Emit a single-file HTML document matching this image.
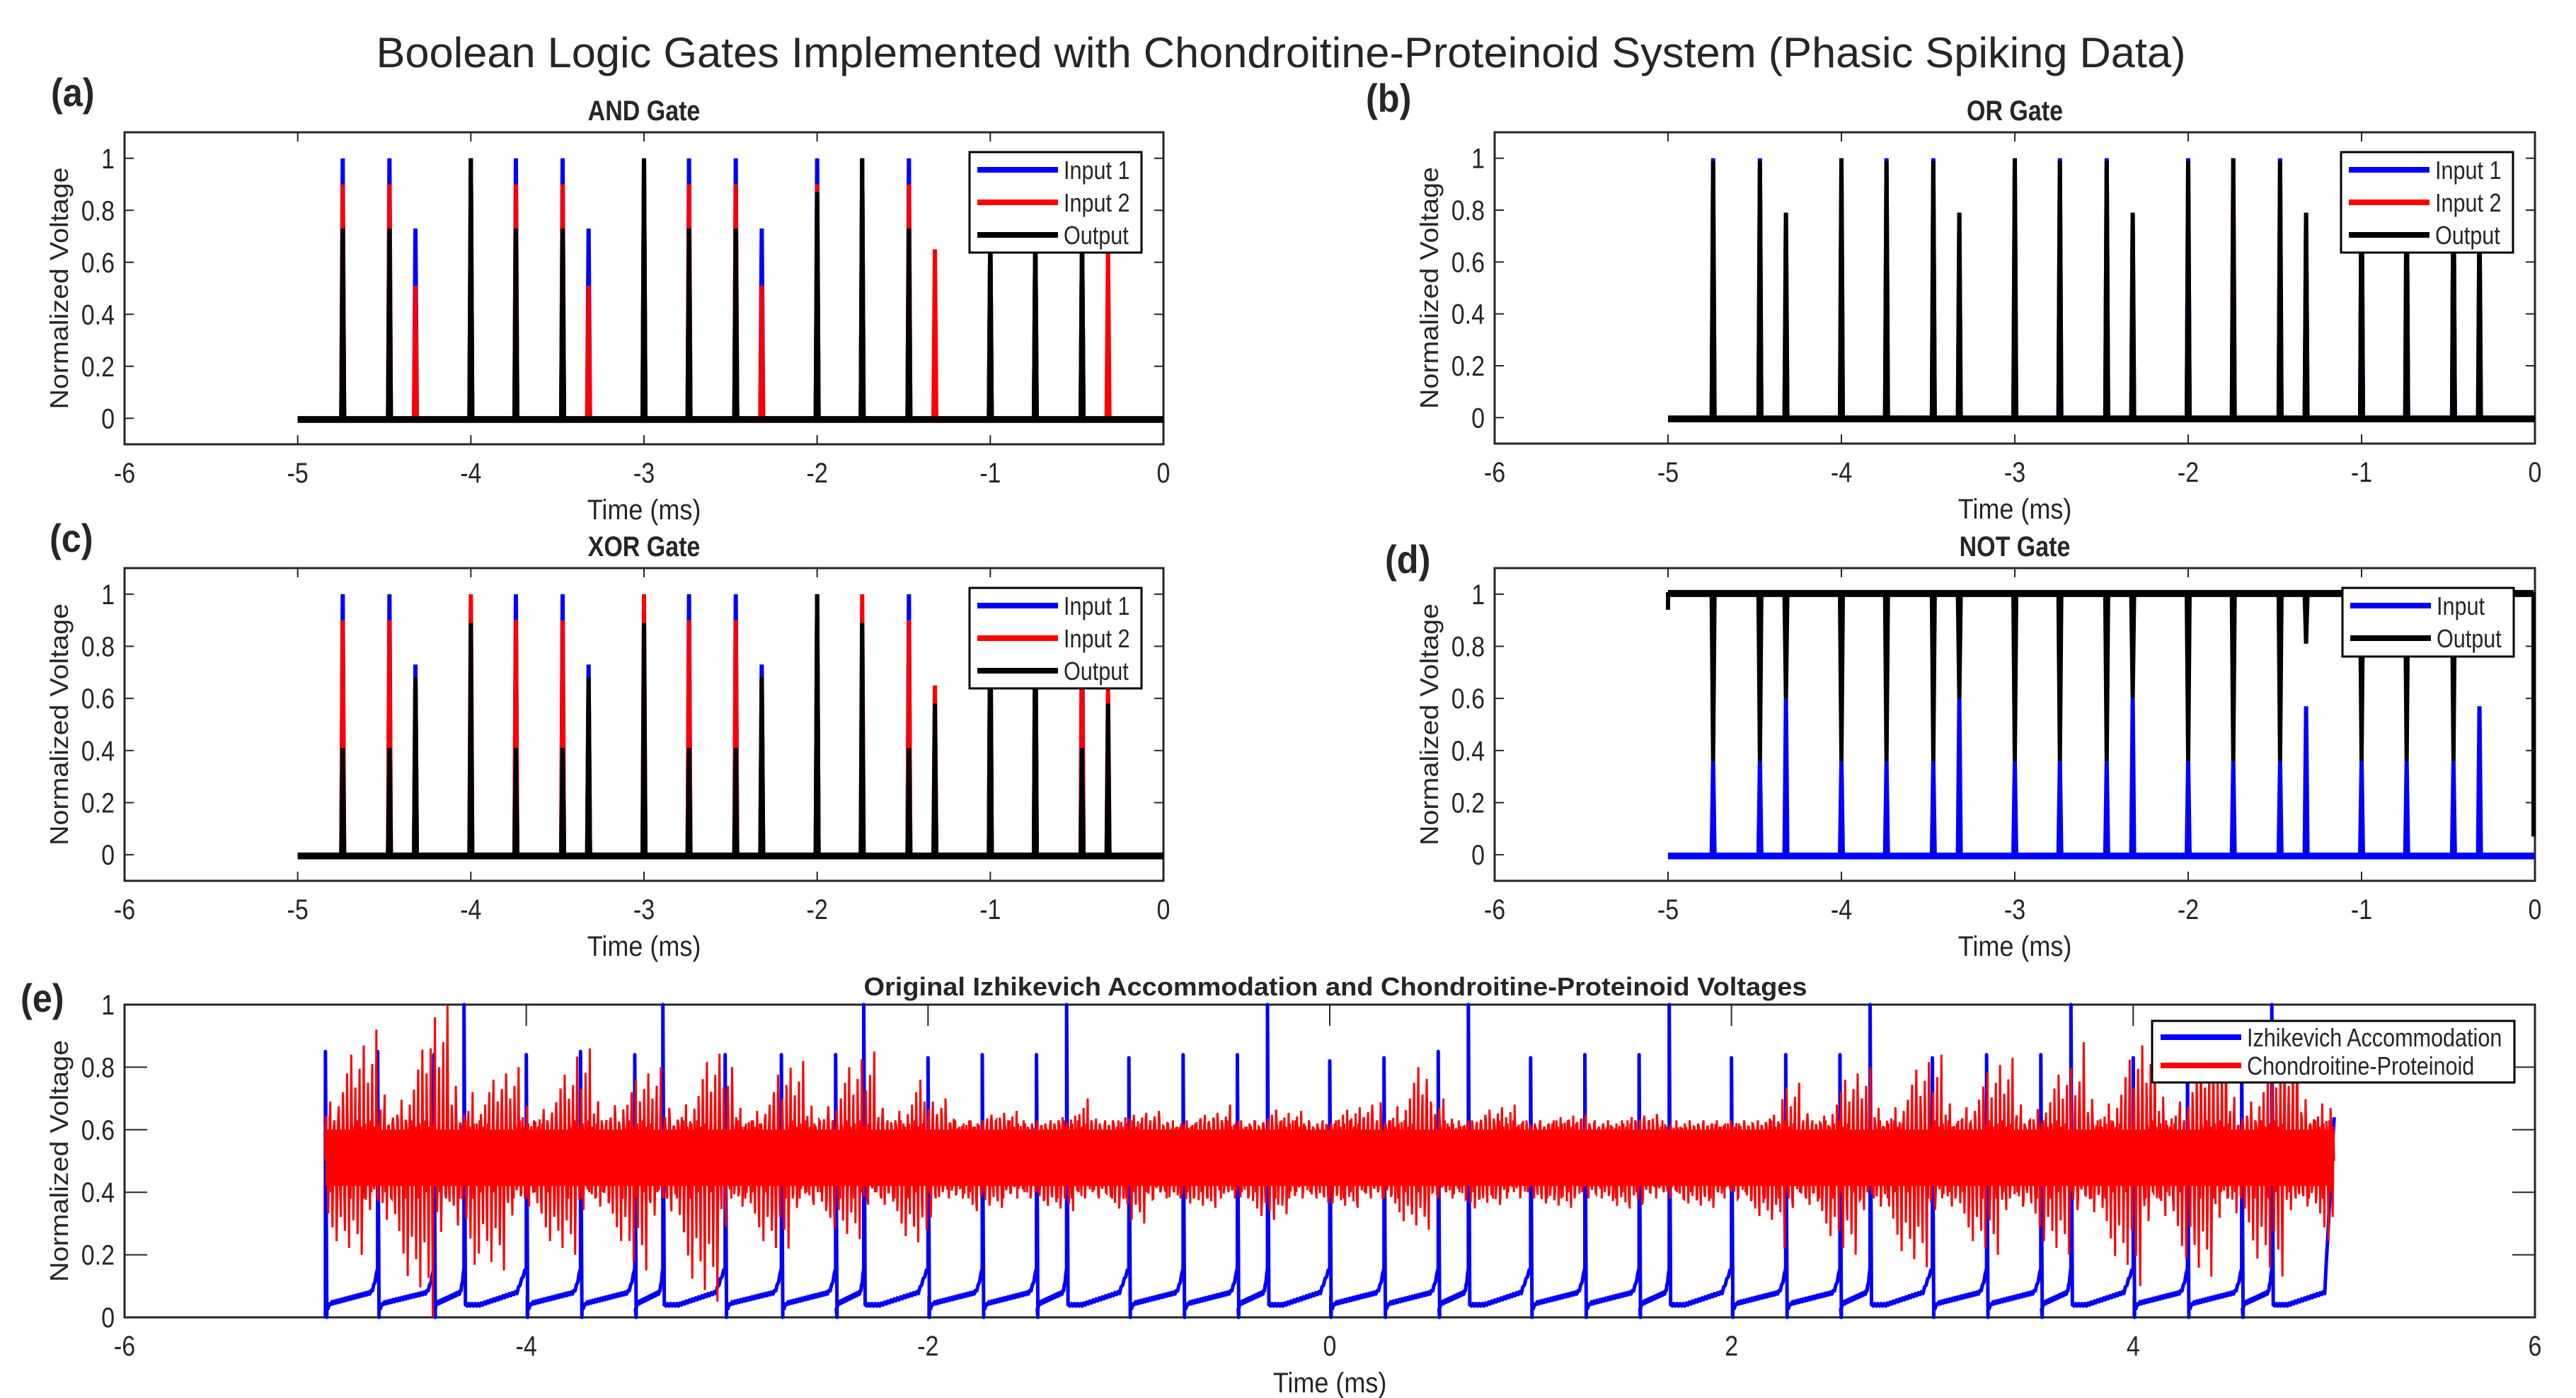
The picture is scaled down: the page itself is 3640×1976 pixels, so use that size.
<!DOCTYPE html>
<html><head><meta charset="utf-8"><style>
html,body{margin:0;padding:0;background:#fff;}
svg{display:block;}
text{font-family:"Liberation Sans",Arial,sans-serif;fill:#262626;}
</style></head><body>
<svg id="fig" xmlns="http://www.w3.org/2000/svg" width="3640" height="1976" viewBox="0 0 3640 1976">
<rect x="0" y="0" width="3640" height="1976" fill="#fff"/>
<text x="1810" y="95" font-size="60" text-anchor="middle" textLength="2557" lengthAdjust="spacingAndGlyphs" fill="#000">Boolean Logic Gates Implemented with Chondroitine-Proteinoid System (Phasic Spiking Data)</text>
</svg>
<script>
// ---- data ----
const spikeTimes = [-4.74,-4.47,-4.32,-4.0,-3.74,-3.47,-3.32,-3.0,-2.74,-2.47,-2.32,-2.0,-1.74,-1.47,-1.32,-1.0,-0.74,-0.47,-0.32];
const andIn1 = [1,1,0.73,1,1,1,0.73,1,1,1,0.73,1,1,1,0,0.73,0.73,0.73,0];
const andIn2 = [0.9,0.9,0.51,1,0.9,0.9,0.51,1,0.9,0.9,0.51,0.9,1,0.9,0.65,0.73,0.73,0.73,0.65];
const andOut = [0.73,0.73,0,1,0.73,0.73,0,1,0.73,0.73,0,0.87,1,0.73,0,0.73,0.73,0.73,0];
const orIn1 = [1,1,0,0,1,1,0,0,1,1,0,1,0,1,0,1,1,1,0];
const orIn2 = [0,0,0.79,1,0,0,0.79,1,0,0,0.79,0,1,0,0.79,0,0,0,0.79];
const orOut = [0.99,0.99,0.79,1,0.99,0.99,0.79,1,0.99,0.99,0.79,0.99,1,0.99,0.79,0.99,0.99,0.99,0.79];
const xorIn1 = [1,1,0.73,0,1,1,0.73,0,1,1,0.73,1,0,1,0,1,1,1,0];
const xorIn2 = [0.9,0.9,0.68,1,0.9,0.9,0.68,1,0.9,0.9,0.68,1,1,0.9,0.65,1,1,0.9,0.65];
const xorOut = [0.41,0.41,0.68,0.89,0.41,0.41,0.68,0.89,0.41,0.41,0.68,1,0.89,0.41,0.58,1,1,0.41,0.58];
const notIn = [0.36,0.36,0.6,0.36,0.36,0.36,0.6,0.36,0.36,0.36,0.6,0.36,0.36,0.36,0.57,0.36,0.36,0.36,0.57];
const notOut = [0.36,0.36,0.6,0.36,0.36,0.36,0.6,0.36,0.36,0.36,0.6,0.36,0.36,0.36,0.81,0.36,0.36,0.36,0.81];
const gateXTicks = [-6,-5,-4,-3,-2,-1,0];
const gateYTicks = [0,0.2,0.4,0.6,0.8,1];
const gateYTickLabels = ['0','0.2','0.4','0.6','0.8','1'];
// panel e
const izhTimes = [-5,-4.74,-4.46,-4.31,-4,-3.73,-3.46,-3.32,-3.01,-2.73,-2.46,-2.32,-2,-1.73,-1.46,-1.31,-1,-0.73,-0.46,-0.31,0,0.27,0.54,0.69,1,1.27,1.54,1.69,2,2.27,2.54,2.69,3,3.27,3.54,3.69,4,4.27,4.54,4.69];
const izhPeaks = [0.85,0.85,0.84,1,0.84,0.85,0.84,1,0.84,0.84,0.84,1,0.83,0.84,0.84,1,0.83,0.84,0.84,1,0.82,0.83,0.85,1,0.83,0.84,0.84,1,0.83,0.84,0.84,1,0.83,0.84,0.84,1,0.83,0.84,0.84,1];
const izhEnd = 0.64;
const redBins = [-5,-4.75,-4.5,-4.25,-4,-3.75,-3.5,-3.25,-3,-2.75,-2.5,-2.25,-2,-1.75,-1.5,-1.25,-1,-0.75,-0.5,-0.25,0,0.25,0.5,0.75,1,1.25,1.5,1.75,2,2.25,2.5,2.75,3,3.25,3.5,3.75,4,4.25,4.5,4.75];
const redUpper = [0.9,0.92,1.0,0.8,0.82,0.86,0.8,0.87,0.8,0.82,0.85,0.8,0.7,0.66,0.65,0.7,0.66,0.66,0.68,0.66,0.68,0.85,0.7,0.68,0.65,0.65,0.65,0.62,0.66,0.75,0.8,0.84,0.84,0.83,0.82,0.88,0.9,0.9,0.9,0.88];
const redLower = [0.2,0.06,0.0,0.15,0.2,0.2,0.15,0.05,0.2,0.22,0.25,0.22,0.32,0.35,0.34,0.33,0.3,0.35,0.3,0.33,0.35,0.28,0.33,0.36,0.35,0.34,0.36,0.35,0.3,0.22,0.2,0.16,0.2,0.2,0.2,0.14,0.1,0.13,0.13,0.2];
const eXTicks = [-6,-4,-2,0,2,4,6];
const eYTicks = [0,0.2,0.4,0.6,0.8,1];

// ---- drawing helpers ----
const NS = 'http://www.w3.org/2000/svg';
const svg = document.getElementById('fig');
function mk(tag, attrs, name, parent) {
  const el = document.createElementNS(NS, tag);
  for (const k in attrs) el.setAttribute(k, attrs[k]);
  
  
  (parent || svg).appendChild(el);
  return el;
}
function txt(x, y, s, size, name, opt) {
  opt = opt || {};
  const sx = opt.sx || 1;
  const el = document.createElementNS(NS, 'text');
  el.setAttribute('transform', 'translate(' + x + ',' + y + ')' + (opt.rot ? ' rotate(' + opt.rot + ')' : '') + ' scale(' + sx + ',1)');
  el.setAttribute('font-size', size);
  el.setAttribute('text-anchor', opt.anchor || 'middle');
  if (opt.bold) el.setAttribute('font-weight', 'bold');
  if (opt.len) { el.setAttribute('textLength', opt.len); el.setAttribute('lengthAdjust', 'spacingAndGlyphs'); }
  if (opt.fill) el.setAttribute('fill', opt.fill);
  el.textContent = s;
  
  
  svg.appendChild(el);
  return el;
}

function makeAxes(p) {
  p.X = v => p.L + (v - p.x0) / (p.x1 - p.x0) * (p.R - p.L);
  p.Y = v => p.B - (v - p.y0) / (p.y1 - p.y0) * (p.B - p.T);
  return p;
}
function drawFrame(p, xt, yt, ytl, tickLen) {
  const g = mk('g', {}, p.id + '-axes');
  mk('rect', {x:p.L, y:p.T, width:p.R-p.L, height:p.B-p.T, fill:'none', stroke:'#262626', 'stroke-width':3}, p.id + '-axes-box', g);
  xt.forEach(v => {
    const x = p.X(v);
    mk('line', {x1:x, y1:p.B, x2:x, y2:p.B-tickLen, stroke:'#262626','stroke-width':2}, p.id + '-x-tick', g);
    mk('line', {x1:x, y1:p.T, x2:x, y2:p.T+tickLen, stroke:'#262626','stroke-width':2}, p.id + '-x-tick-top', g);
    txt(x, p.B + 54, String(v), 40, p.id + '-x-tick-label', {sx:0.85});
  });
  yt.forEach((v, i) => {
    const y = p.Y(v);
    const tl = p.ytickLen || tickLen;
    mk('line', {x1:p.L, y1:y, x2:p.L+tl, y2:y, stroke:'#262626','stroke-width':2}, p.id + '-y-tick', g);
    mk('line', {x1:p.R, y1:y, x2:p.R-tl, y2:y, stroke:'#262626','stroke-width':2}, p.id + '-y-tick-right', g);
    txt(p.L - 14, y + 14, ytl[i], 40, p.id + '-y-tick-label', {sx:0.85, anchor:'end'});
  });
  txt((p.L + p.R) / 2, p.B + 106, 'Time (ms)', 40, p.id + '-x-axis-title', {sx:0.9});
  txt(p.L - 80, (p.T + p.B) / 2, 'Normalized Voltage', 36, p.id + '-y-axis-title', {rot:-90, len:342});
}
function spikePath(p, times, vals) {
  let d = 'M' + p.X(-5) + ',' + p.Y(0);
  times.forEach((t, i) => {
    const x = p.X(t);
    d += ' L' + (x - 2) + ',' + p.Y(0) + ' L' + x + ',' + p.Y(vals[i]) + ' L' + (x + 2) + ',' + p.Y(0);
  });
  d += ' L' + p.X(0) + ',' + p.Y(0);
  return d;
}
function legend(p, x0, y0, w, h, entries, lx1, lx2, ys) {
  const g = mk('g', {}, p.id + '-legend');
  mk('rect', {x:x0, y:y0, width:w, height:h, fill:'#fff', stroke:'#000', 'stroke-width':3}, p.id + '-legend-box', g);
  entries.forEach((e, i) => {
    mk('line', {x1:lx1, y1:ys[i], x2:lx2, y2:ys[i], stroke:e[1], 'stroke-width':8}, p.id + '-legend-swatch-' + e[2], g);
    txt(lx2 + 8, ys[i] + 13, e[0], 36, p.id + '-legend-label-' + e[2], {sx:0.85, anchor:'start', fill:'#000'});
  });
}

// ---- gate panels ----
const gates = [
  {id:'and', L:176, R:1644, T:187, B:628, title:'AND Gate', lab:'(a)', lx:72, ly:150, series:[andIn1, andIn2, andOut]},
  {id:'or', L:2112, R:3582, T:187, B:627, title:'OR Gate', lab:'(b)', lx:1930, ly:158, series:[orIn1, orIn2, orOut]},
  {id:'xor', L:176, R:1644, T:803, B:1245, title:'XOR Gate', lab:'(c)', lx:70, ly:780, series:[xorIn1, xorIn2, xorOut]},
  {id:'not', L:2112, R:3582, T:803, B:1245, title:'NOT Gate', lab:'(d)', lx:1957, ly:810, series:null}
];
gates.forEach(p => {
  p.x0 = -6; p.x1 = 0; p.y0 = -0.1; p.y1 = 1.1;
  makeAxes(p);
  drawFrame(p, gateXTicks, gateYTicks, gateYTickLabels, 13);
  txt((p.L + p.R) / 2, p.T - 17, p.title, 40, p.id + '-title', {bold:true, sx:0.85, fill:'#000'});
  txt(p.lx, p.ly, p.lab, 56, p.id + '-panel-label', {bold:true, anchor:'start', sx:0.9, fill:'#333'});
  const legY = p.T + 28;
  if (p.series) {
    const cols = ['#0000ff', '#ff0000', '#000000'];
    const names = ['input-1', 'input-2', 'output'];
    p.series.forEach((vals, k) => {
      mk('path', {d:spikePath(p, spikeTimes, vals), fill:'none', stroke:cols[k], 'stroke-width':6, 'stroke-linejoin':'miter'}, p.id + '-' + names[k] + '-trace');
    });
    mk('line', {x1:p.X(-5), y1:p.Y(0)+2, x2:p.R, y2:p.Y(0)+2, stroke:'#000', 'stroke-width':9}, p.id + '-output-baseline');
    const lx = p.R - 274;
    legend(p, lx, legY, 243, 142, [['Input 1','#0000ff','input-1'],['Input 2','#ff0000','input-2'],['Output','#000','output']], lx + 11, lx + 125, [legY + 25, legY + 71, legY + 117]);
  } else {
    mk('path', {d:spikePath(p, spikeTimes, notIn), fill:'none', stroke:'#0000ff', 'stroke-width':6}, 'not-input-trace');
    mk('line', {x1:p.X(-5), y1:p.Y(0)+2, x2:p.R, y2:p.Y(0)+2, stroke:'#0000ff', 'stroke-width':9}, 'not-input-baseline');
    let d = 'M' + p.X(-5) + ',' + p.Y(0.94) + ' L' + p.X(-5) + ',' + p.Y(1);
    spikeTimes.forEach((t, i) => {
      const x = p.X(t);
      d += ' L' + (x - 2) + ',' + p.Y(1) + ' L' + x + ',' + p.Y(notOut[i]) + ' L' + (x + 2) + ',' + p.Y(1);
    });
    d += ' L' + (p.X(0) - 2) + ',' + p.Y(1) + ' L' + (p.X(0) - 2) + ',' + p.Y(0.07);
    mk('path', {d:d, fill:'none', stroke:'#000', 'stroke-width':6}, 'not-output-trace');
    mk('line', {x1:p.X(-5), y1:p.Y(1)-1, x2:p.X(0)-2, y2:p.Y(1)-1, stroke:'#000', 'stroke-width':10}, 'not-output-high-level');
    const lx = p.R - 272;
    legend(p, lx, legY, 242, 97, [['Input','#0000ff','input'],['Output','#000','output']], lx + 11, lx + 125, [legY + 25, legY + 71]);
  }
});

// ---- panel e ----
const pe = makeAxes({id:'izh', L:176, R:3582, T:1420, B:1862, x0:-6, x1:6, y0:0, y1:1, ytickLen:32});
drawFrame(pe, eXTicks, eYTicks, gateYTickLabels, 30);
txt(1887, 1407, 'Original Izhikevich Accommodation and Chondroitine-Proteinoid Voltages', 36, 'izh-title', {bold:true, len:1333, fill:'#000'});
txt(29, 1430, '(e)', 56, 'izh-panel-label', {bold:true, anchor:'start', sx:0.9, fill:'#333'});

(function () {
  let d = '';
  for (let i = 0; i < izhTimes.length; i++) {
    const t0 = izhTimes[i];
    const t1 = i + 1 < izhTimes.length ? izhTimes[i + 1] : 5.0;
    const big = izhPeaks[i] >= 0.99;
    const x0 = pe.X(t0);
    if (i === 0) d += 'M' + x0 + ',' + pe.Y(0.0);
    d += ' L' + x0 + ',' + pe.Y(izhPeaks[i]) + ' L' + (x0 + 2) + ',' + pe.Y(big ? 0.04 : 0);
    const n = 40;
    const endV = i + 1 < izhTimes.length ? 0.16 : izhEnd;
    for (let k = 1; k <= n; k++) {
      const s = k / n;
      let v;
      if (big) {
        v = s < 0.25 ? 0.04 : 0.04 + 0.05 * (s - 0.25) / 0.75 + (s > 0.85 ? (s - 0.85) / 0.15 * (endV - 0.09) : 0);
      } else {
        v = s < 0.1 ? 0.045 * Math.sqrt(s / 0.1) : 0.045 + 0.04 * (s - 0.1) / 0.9 + (s > 0.85 ? Math.pow((s - 0.85) / 0.15, 2) * (endV - 0.085) : 0);
      }
      v += (k % 2 ? 0.004 : -0.004);
      d += ' L' + pe.X(t0 + (t1 - t0) * s) + ',' + pe.Y(v);
    }
    if (i + 1 >= izhTimes.length) d += ' L' + pe.X(5.0) + ',' + pe.Y(izhEnd);
  }
  mk('path', {d:d, fill:'none', stroke:'#0000ff', 'stroke-width':5, 'stroke-linejoin':'round'}, 'izhikevich-trace');
})();

(function () {
  const frac = [0.15, 0.9, 0.3, 0.5, 0.1, 0.7, 0.25, 1.0, 0.4, 0.2, 0.6, 0.35, 0.8, 0.05, 0.45, 0.12, 0.65];
  const core = [0.6, 0.42, 0.57, 0.45, 0.63, 0.4, 0.58, 0.44, 0.61, 0.43, 0.55, 0.38, 0.62];
  let d = 'M' + pe.X(-5) + ',' + pe.Y(0.5);
  let c = 0, f = 0;
  redBins.forEach((b, i) => {
    const n = 72;
    for (let k = 0; k < n; k++) {
      const t = b + 0.25 * k / n;
      let v;
      if (k % 6 === 1) v = 0.6 + (redUpper[i] - 0.6) * frac[(f++) % frac.length];
      else if (k % 6 === 4) v = 0.42 - (0.42 - redLower[i]) * frac[(f++ + 7) % frac.length];
      else v = core[(c++) % core.length];
      d += ' L' + pe.X(t).toFixed(1) + ',' + pe.Y(v).toFixed(1);
    }
  });
  d += ' L' + pe.X(5) + ',' + pe.Y(0.5);
  mk('path', {d:d, fill:'none', stroke:'#ff0000', 'stroke-width':3}, 'chondroitine-proteinoid-trace');
  mk('rect', {x:pe.X(-5), y:pe.Y(0.6), width:pe.X(5)-pe.X(-5), height:pe.Y(0.42)-pe.Y(0.6), fill:'#ff0000'}, 'chondroitine-proteinoid-core-band');
})();
legend(pe, 3041, 1443, 512, 87, [['Izhikevich Accommodation','#0000ff','izhikevich'],['Chondroitine-Proteinoid','#ff0000','chondroitine']], 3053, 3167, [1466, 1506]);
</script>
</body></html>
